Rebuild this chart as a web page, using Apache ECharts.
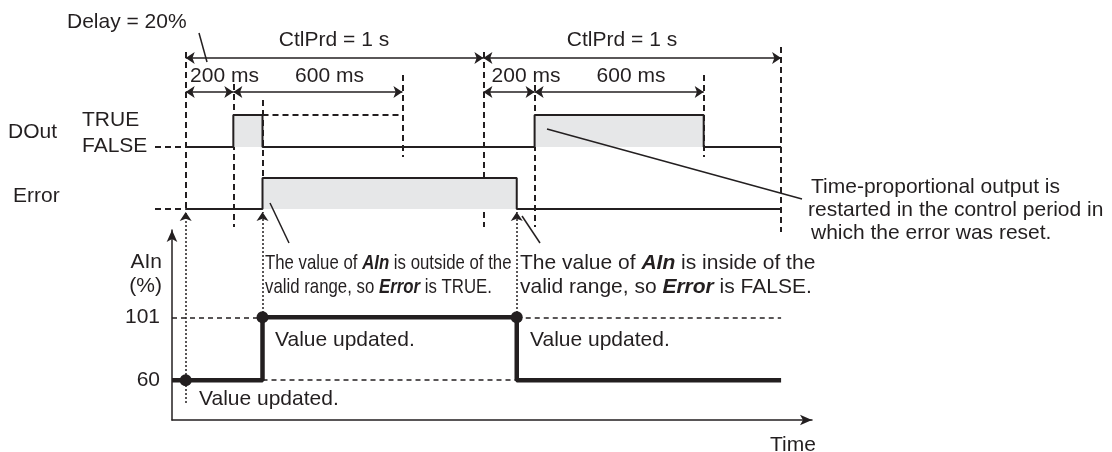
<!DOCTYPE html>
<html>
<head>
<meta charset="utf-8">
<script src="https://cdn.jsdelivr.net/npm/echarts@6/dist/echarts.min.js"></script>
<style>
  html, body { margin: 0; padding: 0; background: #fff; }
  #main { width: 1112px; height: 452px; }
</style>
</head>
<body>
<div id="main"></div>
<script>
// instants on the time line (ms) (it is not drawn to scale)
var periodStarts = [0, 1000, 2000];
var doutOn = [160, 1172];
var plannedOff = [728, 1740];
var doutTimes = [0, 160, 258, 1172, 1740, 2000];
var doutStates = [0, 1, 0, 1, 0, 0];
var errorTimes = [0, 258, 1112, 2000];
var errorStates = [0, 1, 0, 0];
// AIn samples: when the value was updated and the value (%)
var ainTimes = [0, 258, 1112];
var ainValues = [60, 101, 60];
var ainTicks = [60, 101];

var INK = '#231f20';
var FILL = '#e6e7e8';
var FONT = '"Liberation Sans", Arial, sans-serif';

// horizontal scale shared by every lane
var PX_PER_MS = 0.2977, X_ZERO = 185.7;
function xRange(left, width) {
  return { min: (left - X_ZERO) / PX_PER_MS, max: (left + width - X_ZERO) / PX_PER_MS };
}
var laneX = xRange(150, 662);
var ainX = xRange(172, 640);
var allX = xRange(0, 1112);

function pairs(xs, ys) {
  return xs.map(function (x, i) { return [x, ys[i]]; });
}

var ainLine = [[ainX.min, ainValues[0]]].concat(pairs(ainTimes, ainValues));
ainLine.push([periodStarts[2], ainValues[ainValues.length - 1]]);

// vertical guides: time, top px, bottom px
var guides = [
  [periodStarts[0], 52, 209],
  [doutOn[0], 84, 227],
  [ainTimes[1], 100, 178],
  [plannedOff[0], 75, 157],
  [periodStarts[1], 52, 227],
  [doutOn[1], 85, 227],
  [plannedOff[1], 75, 157],
  [periodStarts[2], 47, 232]
];
// dimension arrows: from, to, row px
var dims = [
  [periodStarts[0], periodStarts[1], 58],
  [periodStarts[1], periodStarts[2], 58],
  [periodStarts[0], doutOn[0], 92],
  [doutOn[0], plannedOff[0], 92],
  [periodStarts[1], doutOn[1], 92],
  [doutOn[1], plannedOff[1], 92]
];
// dotted arrows from the AIn updates up to Error
var updateArrows = [
  [ainTimes[0], 403, 212],
  [ainTimes[1], 317, 212],
  [ainTimes[2], 317, 212]
];

var chart = echarts.init(document.getElementById('main'));

function hiddenAxis(i, r) {
  return { type: 'value', gridIndex: i, min: r.min, max: r.max, show: false };
}

function txt(x, y, text, opt) {
  opt = opt || {};
  var el = {
    type: 'text', x: x, y: y, z: 100,
    style: {
      text: text, fill: INK, font: (opt.size || 21) + 'px ' + FONT,
      align: opt.align || 'left', verticalAlign: 'middle',
      rich: {
        b: { fontWeight: 'bold', fontStyle: 'italic', fontSize: opt.size || 21, fontFamily: FONT, fill: INK }
      }
    }
  };
  if (opt.scaleX) el.scaleX = opt.scaleX;
  return el;
}
function seg(x1, y1, x2, y2) {
  return { type: 'line', z: 90, shape: { x1: x1, y1: y1, x2: x2, y2: y2 }, style: { stroke: INK, lineWidth: 1.5 } };
}

var option = {
  animation: false,
  backgroundColor: '#fff',
  grid: [
    { left: 150, top: 115, width: 662, height: 32 },
    { left: 150, top: 178, width: 662, height: 31 },
    { left: 172, top: 230, width: 640, height: 190 },
    { left: 0, top: 0, width: 1112, height: 452 }
  ],
  xAxis: [
    hiddenAxis(0, laneX),
    hiddenAxis(1, laneX),
    {
      type: 'value', gridIndex: 2, min: ainX.min, max: ainX.max,
      axisLine: { show: true, onZero: false, symbol: ['none', 'arrow'], symbolSize: [8, 12], lineStyle: { color: INK, width: 1.5 } },
      axisTick: { show: false }, axisLabel: { show: false }, splitLine: { show: false }
    },
    hiddenAxis(3, allX)
  ],
  yAxis: [
    { type: 'value', gridIndex: 0, min: 0, max: 1, show: false },
    { type: 'value', gridIndex: 1, min: 0, max: 1, show: false },
    {
      type: 'value', gridIndex: 2, min: 34, max: 158,
      axisLine: { show: true, onZero: false, symbol: ['none', 'arrow'], symbolSize: [8, 12], lineStyle: { color: INK, width: 1.5 } },
      axisTick: { show: false }, splitLine: { show: false },
      axisLabel: { customValues: ainTicks, color: INK, fontSize: 21, fontFamily: FONT, margin: 12 }
    },
    { type: 'value', gridIndex: 3, min: 0, max: 452, inverse: true, show: false }
  ],
  series: [
    {
      name: 'DOut', type: 'line', xAxisIndex: 0, yAxisIndex: 0, step: 'end',
      data: pairs(doutTimes, doutStates), showSymbol: false,
      lineStyle: { color: INK, width: 2 }, areaStyle: { color: FILL, opacity: 1 }
    },
    {
      name: 'DOut planned', type: 'line', xAxisIndex: 0, yAxisIndex: 0,
      data: [[doutTimes[2], 1], [plannedOff[0], 1]], showSymbol: false,
      lineStyle: { color: INK, width: 2, type: [6, 4] }
    },
    {
      name: 'Error', type: 'line', xAxisIndex: 1, yAxisIndex: 1, step: 'end',
      data: pairs(errorTimes, errorStates), showSymbol: false,
      lineStyle: { color: INK, width: 2 }, areaStyle: { color: FILL, opacity: 1 }
    },
    {
      name: 'AIn refs', type: 'lines', coordinateSystem: 'cartesian2d', xAxisIndex: 2, yAxisIndex: 2,
      symbol: 'none', lineStyle: { color: INK, width: 1.5, type: [5, 4], opacity: 1 },
      data: [
        { coords: [[ainX.min, ainValues[1]], [ainTimes[1], ainValues[1]]] },
        { coords: [[ainTimes[1], ainValues[0]], [ainTimes[2], ainValues[0]]] },
        { coords: [[ainTimes[2], ainValues[1]], [periodStarts[2], ainValues[1]]] }
      ]
    },
    {
      name: 'AIn', type: 'line', xAxisIndex: 2, yAxisIndex: 2, step: 'end',
      data: ainLine, showSymbol: false, z: 3,
      lineStyle: { color: INK, width: 4.5 }
    },
    {
      name: 'AIn updates', type: 'scatter', xAxisIndex: 2, yAxisIndex: 2,
      data: [[ainTimes[0], ainValues[0]], [ainTimes[1], ainValues[1]], [ainTimes[2], ainValues[1]]],
      symbolSize: 12, itemStyle: { color: INK, opacity: 1 }, z: 4
    },
    {
      name: 'guides', type: 'lines', coordinateSystem: 'cartesian2d', xAxisIndex: 3, yAxisIndex: 3,
      symbol: 'none', lineStyle: { color: INK, width: 2, type: [6, 4], opacity: 1 },
      data: guides.map(function (g) { return { coords: [[g[0], g[1]], [g[0], g[2]]] }; })
        .concat([
          { coords: [[allX.min + 155 / PX_PER_MS, 147], [periodStarts[0], 147]] },
          { coords: [[allX.min + 155 / PX_PER_MS, 209], [periodStarts[0], 209]] }
        ])
    },
    {
      name: 'dimensions', type: 'lines', coordinateSystem: 'cartesian2d', xAxisIndex: 3, yAxisIndex: 3,
      symbol: ['arrow', 'arrow'], symbolSize: 9,
      lineStyle: { color: INK, width: 1.5, opacity: 1 },
      data: dims.map(function (d) { return { coords: [[d[0], d[2]], [d[1], d[2]]] }; })
    },
    {
      name: 'updates', type: 'lines', coordinateSystem: 'cartesian2d', xAxisIndex: 3, yAxisIndex: 3,
      symbol: ['none', 'arrow'], symbolSize: 9,
      lineStyle: { color: INK, width: 1.5, type: [2, 2], opacity: 1 },
      data: updateArrows.map(function (u) { return { coords: [[u[0], u[1]], [u[0], u[2]]] }; })
    }
  ],
  graphic: [
    txt(67, 22, 'Delay = 20%'),
    txt(334, 40, 'CtlPrd = 1 s', { align: 'center' }),
    txt(622, 40, 'CtlPrd = 1 s', { align: 'center' }),
    txt(224.5, 76.5, '200 ms', { align: 'center' }),
    txt(329.5, 76.5, '600 ms', { align: 'center' }),
    txt(526, 76.5, '200 ms', { align: 'center' }),
    txt(631, 76.5, '600 ms', { align: 'center' }),
    txt(8, 132.5, 'DOut'),
    txt(82, 120.5, 'TRUE'),
    txt(82, 146, 'FALSE'),
    txt(13, 196, 'Error'),
    txt(162, 262, 'AIn', { align: 'right' }),
    txt(162, 286, '(%)', { align: 'right' }),
    txt(265, 263, 'The value of {b|AIn} is outside of the', { scaleX: 0.8 }),
    txt(265, 287, 'valid range, so {b|Error} is TRUE.', { scaleX: 0.8 }),
    txt(520, 263, 'The value of {b|AIn} is inside of the'),
    txt(520, 287, 'valid range, so {b|Error} is FALSE.'),
    txt(811, 187, 'Time-proportional output is'),
    txt(808, 210, 'restarted in the control period in'),
    txt(811, 233, 'which the error was reset.'),
    txt(199, 399, 'Value updated.'),
    txt(275, 340, 'Value updated.'),
    txt(530, 340, 'Value updated.'),
    txt(770, 445, 'Time'),
    seg(199, 33, 207, 62),
    seg(270, 203, 289, 243),
    seg(522, 216, 540, 243),
    seg(547, 129, 802, 199)
  ]
};

chart.setOption(option);
</script>
</body>
</html>
